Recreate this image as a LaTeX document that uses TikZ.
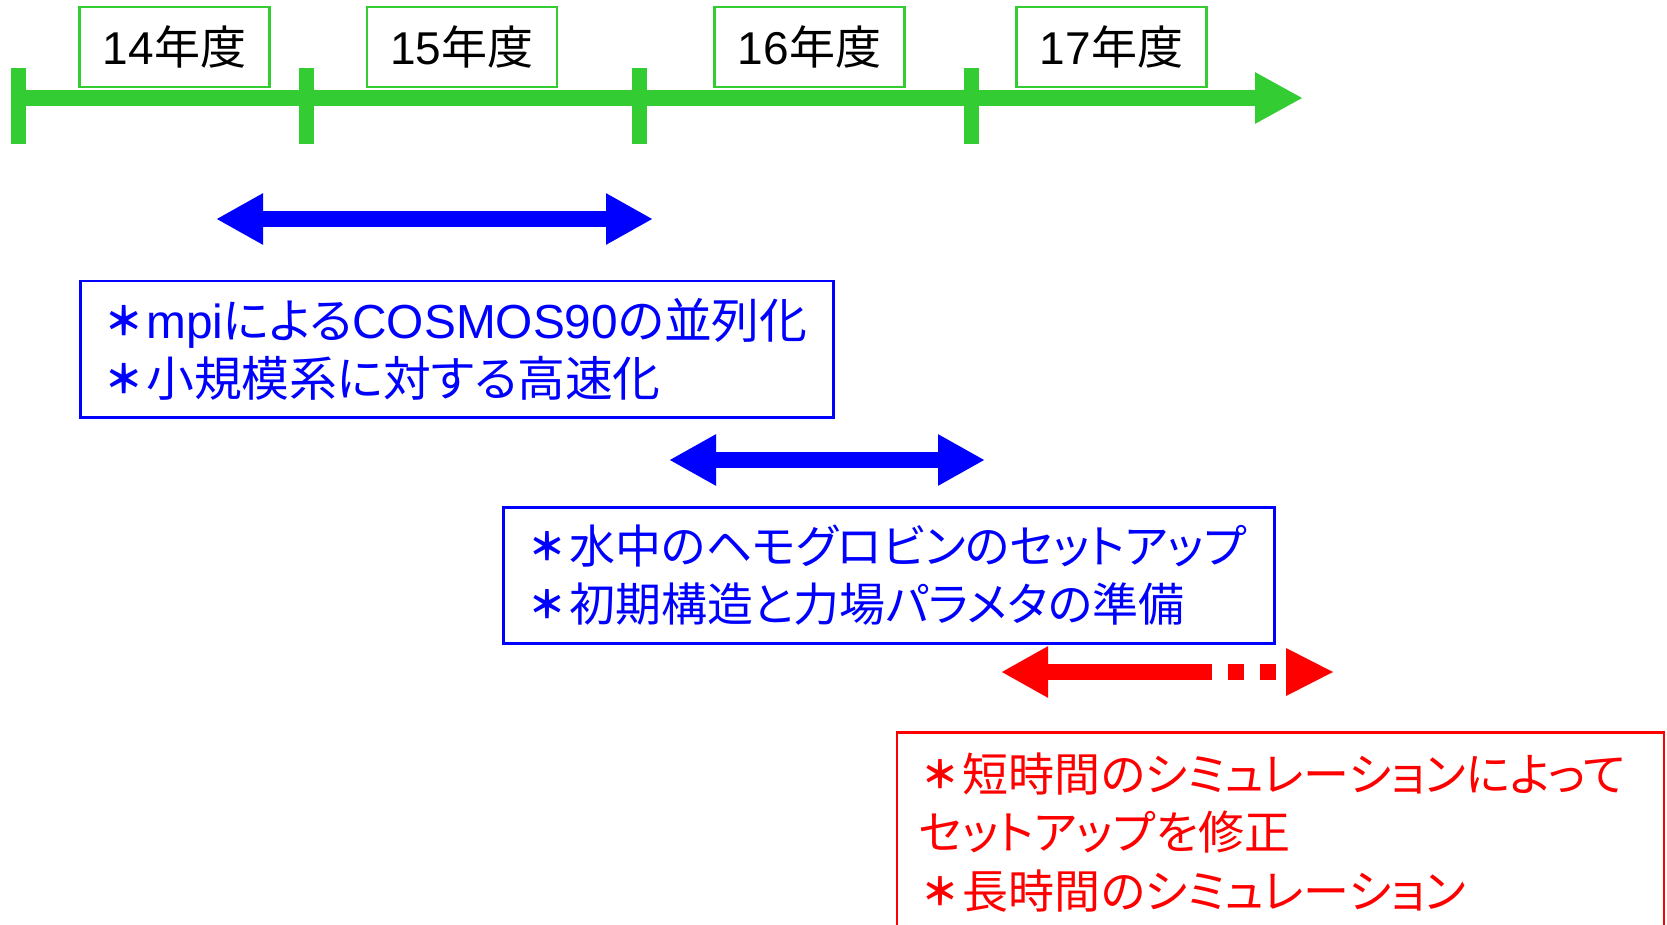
\documentclass[tikz,border=0pt]{standalone}
\usepackage{fontspec}
\setmainfont{Noto Sans CJK JP}[RawFeature=+palt]
\newfontfamily\lat{Liberation Sans}
\newfontfamily\jpfw{Noto Sans CJK JP}
\newcommand\astk{\makebox[44pt][c]{\raisebox{3pt}{\jpfw\bfseries\scalebox{0.82}{＊}}}}
\usetikzlibrary{arrows.meta,calc}
\definecolor{tlgreen}{RGB}{51,204,51}
\definecolor{pblue}{RGB}{0,0,255}
\definecolor{pred}{RGB}{255,0,0}
\tikzset{
  yearbox/.style={draw=tlgreen, line width=2.5pt, minimum width=190pt, minimum height=80pt,
    inner sep=0pt, font=\fontsize{46}{50}\selectfont, text=black},
  textbox/.style={line width=2.5pt, anchor=north west, align=left, inner xsep=22pt, inner ysep=0pt,
    font=\fontsize{46}{58.5}\selectfont},
  tickline/.style={draw=tlgreen, line width=15pt},
  fatarrow/.style={line width=16pt, {Triangle[length=47pt,width=48pt]}-{Triangle[length=47pt,width=48pt]}},
}
\begin{document}
\begin{tikzpicture}[x=1pt, y=-1pt]
\useasboundingbox (0,0) rectangle (1667,925);
\clip (0,0) rectangle (1667,925);
\fill[white] (0,0) rectangle (1667,925);

% timeline
\coordinate (ts) at (11,98);
\coordinate (te) at (1303,98);
\draw[draw=tlgreen, line width=16pt, -{Triangle[length=48pt,width=48pt]}] (ts) -- (te);
\foreach \i/\x in {1/18.5,2/306,3/639,4/971}{
  \coordinate (k\i a) at (\x,68);
  \coordinate (k\i b) at (\x,144);
  \draw[tickline] (k\i a) -- (k\i b);
}

% year labels
\node[yearbox] (y14) at (174.5,47) {{\lat 14}年度};
\node[yearbox] (y15) at (462,47) {{\lat 15}年度};
\node[yearbox] (y16) at (809.5,47) {{\lat 16}年度};
\node[yearbox] (y17) at (1111.5,47) {{\lat 17}年度};

% blue arrow 1 and box
\coordinate (b1l) at (216,219);
\coordinate (b1r) at (653,219);
\draw[fatarrow, draw=pblue, fill=pblue] (b1l) -- (b1r);
\node[textbox, draw=pblue, text=pblue, text width=709pt, minimum height=136pt,
  font=\fontsize{47.8}{58.5}\selectfont] (box1) at (79,280)
  {\astk{\lat mpi}による{\lat COSMOS90}の並列化\\\astk 小規模系に対する高速化};

% blue arrow 2 and box
\coordinate (b2l) at (669,460);
\coordinate (b2r) at (985,460);
\draw[fatarrow, draw=pblue, fill=pblue] (b2l) -- (b2r);
\node[textbox, draw=pblue, text=pblue, text width=727pt, minimum height=136pt] (box2) at (502,506)
  {\astk 水中のヘモグロビンのセットアップ\\\astk 初期構造と力場パラメタの準備};

% red arrow (solid, dashed, head)
\coordinate (r1) at (1001,672);
\coordinate (r2) at (1212,672);
\coordinate (r3) at (1228,672);
\coordinate (r4) at (1276,672);
\coordinate (r5) at (1286,672);
\coordinate (r6) at (1333,672);
\draw[draw=pred, fill=pred, line width=16pt, {Triangle[length=47pt,width=48pt]}-] (r1) -- (r2);
\draw[draw=pred, line width=16pt, dash pattern=on 16pt off 16pt] (r3) -- (r4);
\fill[pred] ($(r5)+(0,-24)$) -- (r6) -- ($(r5)+(0,24)$) -- cycle;

% red box
\node[textbox, draw=pred, text=pred, text width=723pt, minimum height=200pt] (box3) at (895.5,731)
  {\astk 短時間のシミュレーションによって\\セットアップを修正\\\astk 長時間のシミュレーション};
\end{tikzpicture}
\end{document}
